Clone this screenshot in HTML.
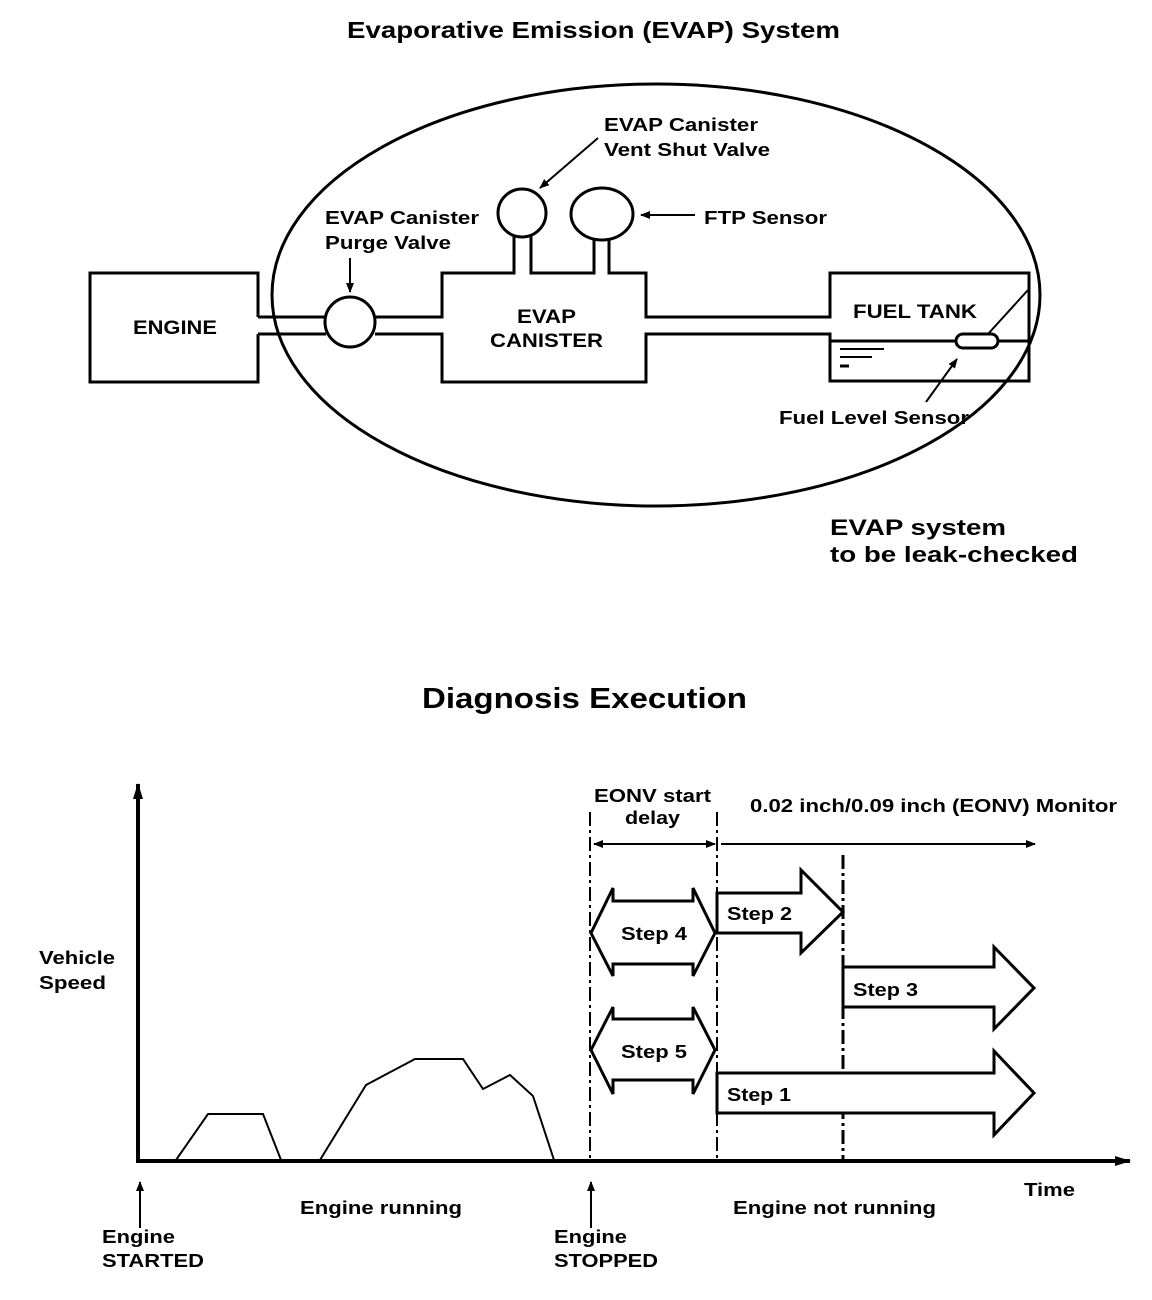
<!DOCTYPE html>
<html><head><meta charset="utf-8"><style>
html,body{margin:0;padding:0;background:#fff;}
svg{display:block;}
text{font-family:"Liberation Sans",Arial,sans-serif;font-weight:bold;fill:#000;}
</style></head><body>
<svg width="1152" height="1300" viewBox="0 0 1152 1300" xmlns="http://www.w3.org/2000/svg">
<defs>
<marker id="ah" markerWidth="10" markerHeight="8" refX="9" refY="4" orient="auto" markerUnits="userSpaceOnUse"><path d="M0,0 L10,4 L0,8 Z" fill="#000"/></marker>
<marker id="ah2" markerWidth="16" markerHeight="10" refX="15" refY="5" orient="auto" markerUnits="userSpaceOnUse"><path d="M0,0 L16,5 L0,10 Z" fill="#000"/></marker>
</defs>
<text x="347" y="38" font-size="23" textLength="493" lengthAdjust="spacingAndGlyphs">Evaporative Emission (EVAP) System</text>

<g fill="none" stroke="#000" stroke-width="3">
<ellipse cx="656" cy="295" rx="384" ry="211"/>
<path d="M258,317 V273 H90 V382 H258 V334"/>
<path d="M258,317 H326 M258,334 H326"/>
<circle cx="350" cy="322" r="25"/>
<path d="M375,317 H442 V273 H514 V236 M531,236 V273 H594 V240 M609,240 V273 H646 V317 H830 V273 H1029 V381 H830 V334 H646 V382 H442 V334 H375"/>
<ellipse cx="522" cy="213" rx="24" ry="24"/>
<ellipse cx="602" cy="214" rx="31" ry="26"/>
<path d="M830,341 H956 M998,341 H1029"/>
<rect x="956" y="334" width="42" height="14" rx="7"/>
</g>
<g stroke="#000" stroke-width="2" fill="none">
<path d="M988,334 L1028,290"/>
<path d="M840,349 H884 M840,357 H872"/>
<path d="M840,366 H849" stroke-width="3"/>
<path d="M350,258 V292" marker-end="url(#ah)"/>
<path d="M598,138 L540,188" marker-end="url(#ah)"/>
<path d="M695,215 H641" marker-end="url(#ah)"/>
<path d="M926,402 L957,359" marker-end="url(#ah)"/>
</g>
<text x="133" y="334" font-size="19" textLength="84" lengthAdjust="spacingAndGlyphs">ENGINE</text>
<text x="517" y="323" font-size="19" textLength="59" lengthAdjust="spacingAndGlyphs">EVAP</text>
<text x="490" y="347" font-size="19" textLength="113" lengthAdjust="spacingAndGlyphs">CANISTER</text>
<text x="853" y="318" font-size="19" textLength="124" lengthAdjust="spacingAndGlyphs">FUEL TANK</text>
<text x="325" y="224" font-size="18" textLength="154" lengthAdjust="spacingAndGlyphs">EVAP Canister</text>
<text x="325" y="249" font-size="18" textLength="126" lengthAdjust="spacingAndGlyphs">Purge Valve</text>
<text x="604" y="131" font-size="18" textLength="154" lengthAdjust="spacingAndGlyphs">EVAP Canister</text>
<text x="604" y="156" font-size="18" textLength="166" lengthAdjust="spacingAndGlyphs">Vent Shut Valve</text>
<text x="704" y="224" font-size="18" textLength="123" lengthAdjust="spacingAndGlyphs">FTP Sensor</text>
<text x="779" y="424" font-size="18" textLength="190" lengthAdjust="spacingAndGlyphs">Fuel Level Sensor</text>
<text x="830" y="535" font-size="22" textLength="176" lengthAdjust="spacingAndGlyphs">EVAP system</text>
<text x="830" y="562" font-size="22" textLength="248" lengthAdjust="spacingAndGlyphs">to be leak-checked</text>

<text x="422" y="708" font-size="29" textLength="325" lengthAdjust="spacingAndGlyphs">Diagnosis Execution</text>

<g stroke="#000" fill="none">
<path d="M138,1160 V784" stroke-width="4" marker-end="url(#ah2)"/>
<path d="M136,1161 H1130" stroke-width="4" marker-end="url(#ah2)"/>
<path d="M176,1160 L208,1114 L263,1114 L281,1160 M320,1160 L366,1085 L415,1059 L463,1059 L483,1089 L510,1075 L533,1096 L554,1160" stroke-width="2"/>
<path d="M140,1228 V1182" stroke-width="2" marker-end="url(#ah)"/>
<path d="M591,1228 V1182" stroke-width="2" marker-end="url(#ah)"/>
<path d="M590,812 V1160 M717,812 V1160" stroke-width="2" stroke-dasharray="14,4,3,4"/>
<path d="M843,855 V1160" stroke-width="3" stroke-dasharray="14,4,3,4"/>
<path d="M598,844 H715" stroke-width="2" marker-end="url(#ah)"/>
<path d="M712,844 H594" stroke-width="2" marker-end="url(#ah)"/>
<path d="M721,844 H1035" stroke-width="2" marker-end="url(#ah)"/>
<g stroke-width="3" fill="#fff">
<path d="M591,933 L613,888 V901 H693 V888 L715,933 L693,976 V964 H613 V976 Z"/>
<path d="M591,1050 L613,1007 V1019 H693 V1007 L715,1050 L693,1094 V1080 H613 V1094 Z"/>
<path d="M717,893 H801 V870 L843,912 L801,953 V933 H717 Z"/>
<path d="M843,967 H994 V947 L1034,988 L994,1029 V1007 H843 Z"/>
<path d="M717,1073 H994 V1051 L1034,1093 L994,1135 V1113 H717 Z"/>
</g>
</g>
<text x="621" y="940" font-size="18" textLength="66" lengthAdjust="spacingAndGlyphs">Step 4</text>
<text x="621" y="1058" font-size="18" textLength="66" lengthAdjust="spacingAndGlyphs">Step 5</text>
<text x="727" y="920" font-size="18" textLength="65" lengthAdjust="spacingAndGlyphs">Step 2</text>
<text x="853" y="996" font-size="18" textLength="65" lengthAdjust="spacingAndGlyphs">Step 3</text>
<text x="727" y="1101" font-size="18" textLength="64" lengthAdjust="spacingAndGlyphs">Step 1</text>
<text x="594" y="802" font-size="18" textLength="117" lengthAdjust="spacingAndGlyphs">EONV start</text>
<text x="625" y="824" font-size="18" textLength="55" lengthAdjust="spacingAndGlyphs">delay</text>
<text x="750" y="812" font-size="18" textLength="367" lengthAdjust="spacingAndGlyphs">0.02 inch/0.09 inch (EONV) Monitor</text>
<text x="39" y="964" font-size="18" textLength="76" lengthAdjust="spacingAndGlyphs">Vehicle</text>
<text x="39" y="989" font-size="18" textLength="67" lengthAdjust="spacingAndGlyphs">Speed</text>
<text x="1024" y="1196" font-size="18" textLength="51" lengthAdjust="spacingAndGlyphs">Time</text>
<text x="300" y="1214" font-size="18" textLength="162" lengthAdjust="spacingAndGlyphs">Engine running</text>
<text x="733" y="1214" font-size="18" textLength="203" lengthAdjust="spacingAndGlyphs">Engine not running</text>
<text x="102" y="1243" font-size="18" textLength="73" lengthAdjust="spacingAndGlyphs">Engine</text>
<text x="102" y="1267" font-size="18" textLength="102" lengthAdjust="spacingAndGlyphs">STARTED</text>
<text x="554" y="1243" font-size="18" textLength="73" lengthAdjust="spacingAndGlyphs">Engine</text>
<text x="554" y="1267" font-size="18" textLength="104" lengthAdjust="spacingAndGlyphs">STOPPED</text>
</svg>
</body></html>
